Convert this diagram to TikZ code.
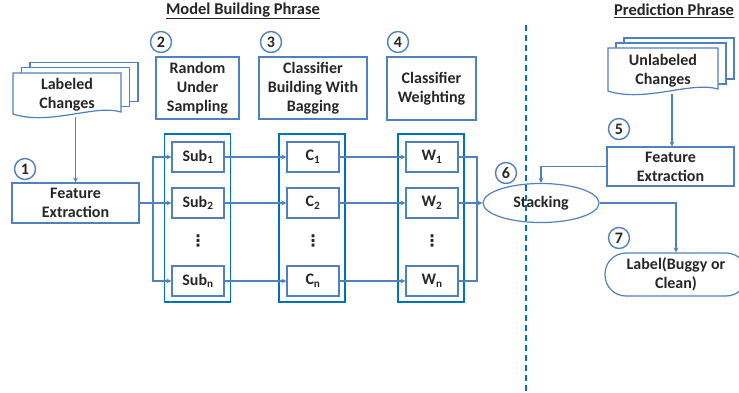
\documentclass[tikz,border=0pt]{standalone}
\usepackage{fontspec}
\setmainfont{Carlito}
\newfontfamily\dotsfont{DejaVu Sans}
\usepackage{tikz}
\usetikzlibrary{shapes,arrows,positioning}
\definecolor{boxblue}{RGB}{79,129,189}
\definecolor{colblue}{RGB}{0,112,192}
\tikzset{
  flowedge/.style  = {boxblue, line width=1.2pt, ->, >=stealth},
  plainedge/.style = {boxblue, line width=1.2pt},
  stepbox/.style   = {draw=boxblue, line width=1.2pt, align=center, inner sep=1pt},
  rowbox/.style    = {stepbox, minimum width=52pt, minimum height=30pt},
  colbox/.style    = {draw=colblue, line width=1.8pt, minimum width=66pt, minimum height=168pt},
  numcirc/.style   = {circle, draw=boxblue, line width=1.4pt, minimum size=21pt, inner sep=0pt},
  docline/.style   = {draw=boxblue, line width=1.2pt, fill=white},
  moredots/.style  = {font=\dotsfont\bfseries\fontsize{16}{16}\selectfont, inner sep=0pt},
}

\begin{document}
\begin{tikzpicture}[x=1pt,y=-1pt,font=\fontsize{16}{19}\selectfont\bfseries,text=black!85]
      \useasboundingbox (0,0) rectangle (739,393);

      % titles
      \node[font=\fontsize{16.5}{19}\selectfont\bfseries] (tmodel) at (243,11) {\underline{Model Building Phrase}};
      \node[font=\fontsize{16.5}{19}\selectfont\bfseries] (tpred) at (674,11) {\underline{Prediction Phrase}};

      % phase separator
      \draw[colblue, line width=1.8pt, dash pattern=on 6pt off 4pt] (526,25) -- (526,393);

      % labeled changes (document stack)
      \foreach \d in {17,8.5} {
        \draw[docline] (13+\d,73-\d*0.6) rectangle (121+\d,112-\d*0.6);
      }
      \draw[docline] (13,73) -- (121,73) -- (121,112)
          .. controls (95,104) and (50,126) .. (13,114) -- cycle;
      \node[align=center] (lab) at (67,95) {Labeled\\Changes};
      \coordinate (labbot) at (75.5,117);

      % unlabeled changes (document stack)
      \foreach \d in {16,8} {
        \draw[docline] (608+\d,48-\d*0.62) rectangle (718+\d,89-\d*0.62);
      }
      \draw[docline] (608,48) -- (718,48) -- (718,89)
          .. controls (690,81) and (645,103) .. (608,91) -- cycle;
      \node[align=center] (unl) at (663,71) {Unlabeled\\Changes};
      \coordinate (unlbot) at (672,94.5);

      % step numbers
      \node[numcirc] (n1) at (25,169) {1};
      \node[numcirc] (n2) at (161,42) {2};
      \node[numcirc] (n3) at (271,42) {3};
      \node[numcirc] (n4) at (398,42) {4};
      \node[numcirc] (n5) at (619,129) {5};
      \node[numcirc] (n6) at (506,173) {6};
      \node[numcirc] (n7) at (619,238) {7};

      % step boxes
      \node[stepbox, minimum width=127pt, minimum height=40pt] (fe1) at (75.5,203) {Feature\\Extraction};
      \node[stepbox, minimum width=83pt, minimum height=62pt] (rus) at (197.5,88) {Random\\Under\\Sampling};
      \node[stepbox, minimum width=108pt, minimum height=62pt] (cbb) at (313,88) {Classifier\\Building With\\Bagging};
      \node[stepbox, minimum width=89pt, minimum height=63pt] (cw) at (431.5,88.5) {Classifier\\Weighting};
      \node[stepbox, minimum width=127pt, minimum height=39pt] (fe2) at (670.5,166.5) {Feature\\Extraction};
      \node[stepbox, ellipse, minimum width=116pt, minimum height=39pt] (stack) at (541,203) {Stacking};
      \node[stepbox, rounded corners=21pt, minimum width=142pt, minimum height=43pt] (label) at (676,274.5) {Label(Buggy or\\Clean)};

      % columns
      \node[colbox] (subcol) at (197.5,218) {};
      \node[colbox] (ccol) at (312,218) {};
      \node[colbox] (wcol) at (431,218) {};

      \foreach \r/\y in {1/157,2/203,n/281} {
        \node[rowbox] (sub\r) at (198,\y) {Sub\textsubscript{\r}};
        \node[rowbox] (c\r) at (313,\y) {C\textsubscript{\r}};
        \node[rowbox] (w\r) at (432,\y) {W\textsubscript{\r}};
      }
      \node[moredots] (subdots) at (198,241) {⋮};
      \node[moredots] (cdots) at (313,241) {⋮};
      \node[moredots] (wdots) at (432,241) {⋮};

      % connectors
      \coordinate (split) at (153,203);
      \coordinate (merge) at (477,203);
      \path (labbot) edge[flowedge] (fe1.north);
      \path (fe1.east) edge[flowedge] (sub2.west);
      \draw[flowedge] (split) |- (sub1.west);
      \draw[flowedge] (split) |- (subn.west);
      \foreach \r in {1,2,n} {
        \path (sub\r.east) edge[flowedge] (c\r.west);
        \path (c\r.east) edge[flowedge] (w\r.west);
      }
      \draw[plainedge] (w1.east) -| (merge);
      \draw[plainedge] (wn.east) -| (merge);
      \path (w2.east) edge[flowedge] (stack.west);
      \path (unlbot) edge[flowedge] (unlbot |- fe2.north);
      \draw[flowedge] (fe2.west) -| (stack.north);
      \draw[flowedge] (stack.east) -| (label.north);
\end{tikzpicture}
\end{document}
